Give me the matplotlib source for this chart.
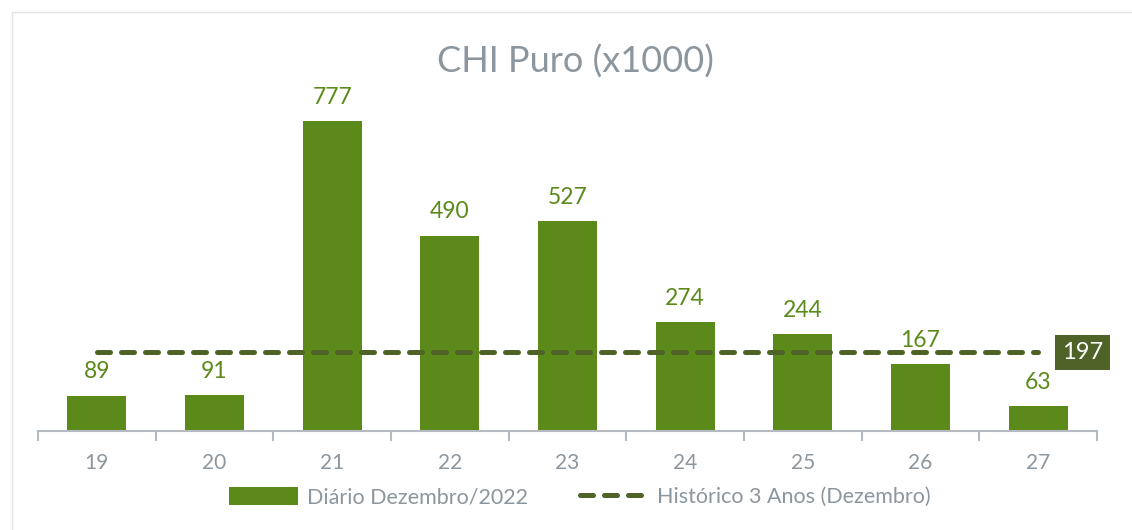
import numpy as np
import matplotlib.pyplot as plt
from matplotlib.patches import Rectangle

# data
days = ['19', '20', '21', '22', '23', '24', '25', '26', '27']
diario = [89, 91, 777, 490, 527, 274, 244, 167, 63]
historico = [197] * len(days)

bar_color = '#5b8a1a'
line_color = '#4f6228'
text_gray = '#8c969e'
axis_gray = '#b4bac0'

plt.rcParams['font.family'] = ['Lato', 'DejaVu Sans']

fig = plt.figure(figsize=(11.32, 5.30), dpi=100)
ax = fig.add_axes([38 / 1132, 1 - 431 / 530, (1097 - 38) / 1132, (431 - 100) / 530])

# light frame around the chart
fig.patches.append(Rectangle((12 / 1132, -0.01), 1.1, 1 - 12 / 530 + 0.01,
                             transform=fig.transFigure, fill=False,
                             edgecolor='#e3e3e3', linewidth=1))

x = np.arange(len(days))
bars = ax.bar(x, diario, width=0.5, color=bar_color, label='Diário Dezembro/2022', zorder=2)
ax.plot(x, historico, linestyle=(0, (2.6, 2.2)), color=line_color, linewidth=3.6,
        dash_capstyle='round', label='Histórico 3 Anos (Dezembro)', zorder=3)

for xi, v in zip(x, diario):
    ax.text(xi, v + 33, str(v), ha='center', va='bottom', fontsize=16.5, color=bar_color)

# end label for the historic line
ax.text(x[-1] + 0.2, historico[-1], str(historico[-1]), ha='left', va='center',
        fontsize=17, color='white',
        bbox=dict(boxstyle='square,pad=0.3', facecolor=line_color, edgecolor='none'))

ax.set_xlim(-0.5, len(days) - 0.5)
ax.set_ylim(0, 830)
ax.set_yticks([])
for s in ['left', 'right', 'top']:
    ax.spines[s].set_visible(False)
ax.spines['bottom'].set_color(axis_gray)
ax.spines['bottom'].set_linewidth(1.5)

ax.set_xticks(np.arange(len(days) + 1) - 0.5, minor=False)
ax.set_xticklabels([])
ax.tick_params(axis='x', which='major', length=7, width=1.5, color=axis_gray, direction='out')
ax.set_xticks(x, minor=True)
ax.set_xticklabels(days, minor=True)
ax.tick_params(axis='x', which='minor', length=0, pad=16, labelsize=15, labelcolor=text_gray)

fig.text(575 / 1132, 1 - 62 / 530, 'CHI Puro (x1000)', ha='center', va='center',
         fontsize=26, color=text_gray)

handles, labels = ax.get_legend_handles_labels()
order = [labels.index('Diário Dezembro/2022'), labels.index('Histórico 3 Anos (Dezembro)')]
fig.legend([handles[i] for i in order], [labels[i] for i in order],
           loc='center', bbox_to_anchor=(580 / 1132, 1 - 497 / 530), ncol=2, frameon=False,
           fontsize=15.5, labelcolor=text_gray, handlelength=3.2, handleheight=0.9,
           columnspacing=2.4, handletextpad=0.4)

fig.savefig('out.png', dpi=100, facecolor='white')
